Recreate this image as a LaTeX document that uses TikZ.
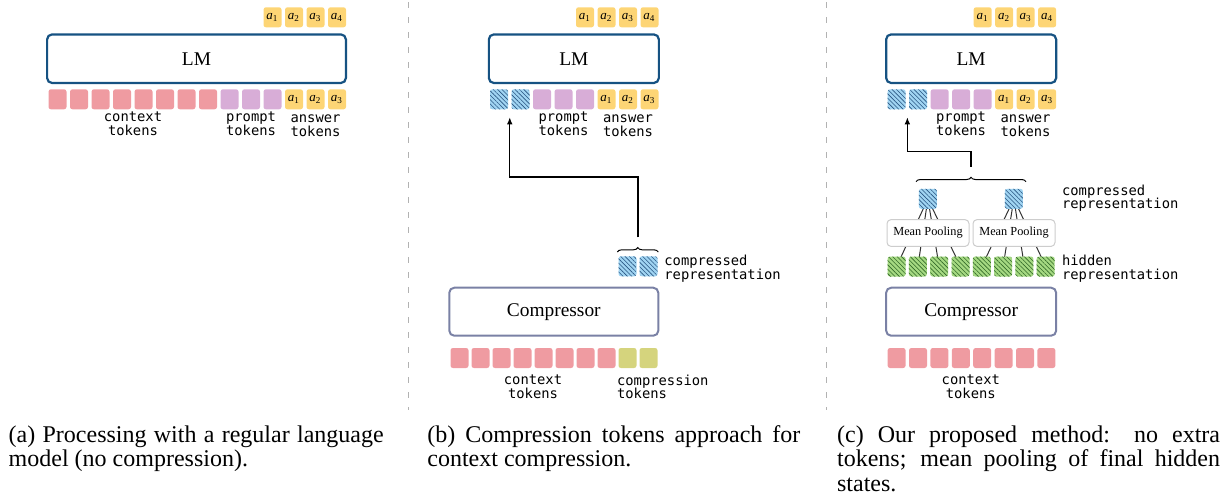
\documentclass[tikz,border=0pt]{standalone}
\usepackage{fontspec}
\setmainfont{Liberation Serif}
\newfontfamily\monofont{DejaVu Sans Mono}
\usetikzlibrary{patterns.meta,decorations.pathreplacing,arrows.meta,backgrounds,calc}

\definecolor{ctxpink}{RGB}{239,155,161}
\definecolor{prmpurple}{RGB}{216,173,215}
\definecolor{ansyellow}{RGB}{253,213,117}
\definecolor{cmpolive}{RGB}{213,212,125}
\definecolor{repblue}{RGB}{160,212,242}
\definecolor{replines}{RGB}{40,85,130}
\definecolor{hidgreen}{RGB}{165,217,130}
\definecolor{hidlines}{RGB}{50,105,40}
\definecolor{lmblue}{RGB}{22,82,130}
\definecolor{compslate}{RGB}{122,129,165}
\definecolor{poolgray}{RGB}{205,205,205}

\newcommand{\ansym}[1]{\textit{a}\textsubscript{#1}}

\tikzset{
  token/.style={rounded corners=1.2pt, minimum width=9pt, minimum height=10pt, inner sep=0pt, font=\fontsize{6.5}{7}\selectfont},
  ctxtok/.style={token, fill=ctxpink},
  prmtok/.style={token, fill=prmpurple},
  anstok/.style={token, fill=ansyellow},
  cmptok/.style={token, fill=cmpolive},
  reptok/.style={token, preaction={fill=repblue}, pattern={Lines[angle=-45,distance=1.55pt,line width=0.3pt]}, pattern color=replines},
  hidtok/.style={token, preaction={fill=hidgreen}, pattern={Lines[angle=-45,distance=1.55pt,line width=0.3pt]}, pattern color=hidlines},
  lmbox/.style={draw=lmblue, line width=1.1pt, rounded corners=2.5pt, minimum height=24.3pt, font=\fontsize{9.7}{10}\selectfont},
  compbox/.style={draw=compslate, line width=1pt, rounded corners=2.5pt, minimum height=24pt, font=\fontsize{9.7}{10}\selectfont},
  poolbox/.style={draw=poolgray, line width=0.5pt, rounded corners=2pt, fill=white, minimum width=41pt, minimum height=13.4pt, inner sep=0pt, font=\fontsize{6.15}{7}\selectfont},
  lbl/.style={font=\monofont\fontsize{6.9}{6.9}\selectfont, inner sep=0pt},
  flow/.style={-{Latex[length=3.5pt,width=2.8pt]}, line width=0.6pt},
  brc/.style={decorate, decoration={brace, amplitude=2.2pt}, line width=0.5pt},
  fan/.style={draw=black!80, line width=0.5pt},
  sep/.style={draw=black!30, line width=0.5pt, dash pattern=on 3pt off 4.5pt},
  caption/.style={anchor=north west, inner sep=0pt, align=justify, font=\fontsize{12}{12.3}\selectfont}
}

\begin{document}
\begin{tikzpicture}[x=0.5pt, y=-0.5pt]
  \useasboundingbox (0,0) rectangle (1227,495);

  % (a) regular language model
  \foreach \i in {0,...,7} \node[ctxtok] (ain\i) at ({57.5+21.5*\i},99.3) {};
  \foreach \i in {8,9,10} \node[prmtok] (ain\i) at ({57.5+21.5*\i},99.3) {};
  \foreach \i/\k in {11/1,12/2,13/3} \node[anstok] (ain\i) at ({57.5+21.5*\i},99.3) {\ansym{\k}};
  \foreach \i/\k in {10/1,11/2,12/3,13/4} \node[anstok] (aout\k) at ({57.5+21.5*\i},17.3) {\ansym{\k}};
  \node[lmbox, minimum width=149.4pt] (alm) at (196.5,58.7) {LM};
  \node[lbl, anchor=north, align=center] (actx) at (133,111.5) {context\\tokens};
  \node[lbl, anchor=north, align=center] (aprm) at (251,111.5) {prompt\\tokens};
  \node[lbl, anchor=north, align=center] (aans) at (315.5,111.5) {\vphantom{d}answer\\tokens};

  \draw[sep] (408.5,2) -- (408.5,410); % separator
  \draw[sep] (826.5,2) -- (826.5,410); % separator

  % (b) compression tokens
  \foreach \i in {0,1} \node[reptok] (bin\i) at ({499+21.5*\i},99.3) {};
  \foreach \i in {2,3,4} \node[prmtok] (bin\i) at ({499+21.5*\i},99.3) {};
  \foreach \i/\k in {5/1,6/2,7/3} \node[anstok] (bin\i) at ({499+21.5*\i},99.3) {\ansym{\k}};
  \foreach \i/\k in {4/1,5/2,6/3,7/4} \node[anstok] (bout\k) at ({499+21.5*\i},17.3) {\ansym{\k}};
  \node[lmbox, minimum width=85pt] (blm) at (573.85,58.7) {LM};
  \node[lbl, anchor=north, align=center] (bprm) at (563.5,111.5) {prompt\\tokens};
  \node[lbl, anchor=north, align=center] (bans) at (628,111.5) {\vphantom{d}answer\\tokens};

  \node[reptok] (brep1) at (627.5,266.3) {};
  \node[reptok] (brep2) at (648.5,266.3) {};
  \draw[brc] (617.3,252) -- (658.3,252); % brace
  \coordinate (bbr) at (638,247.7);
  \coordinate (bgap) at ($(bin0.south)!0.5!(bin1.south)$);
  \draw[flow, shorten >=3.8pt] ([yshift=5.2pt]bbr) |- ($(bgap)+(0,67.4)$) -- (bgap);
  \node[lbl, anchor=north west, align=left] (brepl) at (664,254.5) {compressed\\representation};

  \node[compbox, minimum width=104.5pt] (bcomp) at (553.8,311.7) {Compressor};
  \foreach \i in {0,...,7} \node[ctxtok] (bctx\i) at ({459.5+21*\i},358) {};
  \foreach \i in {8,9} \node[cmptok] (bctx\i) at ({459.5+21*\i},358) {};
  \node[lbl, anchor=north, align=center] (bctxl) at (533,374.3) {context\\tokens};
  \node[lbl, anchor=north west, align=left] (bcmpl) at (616.7,374.3) {compression\\tokens};

  % (c) mean pooling
  \foreach \i in {0,1} \node[reptok] (cin\i) at ({896.6+21.5*\i},99.3) {};
  \foreach \i in {2,3,4} \node[prmtok] (cin\i) at ({896.6+21.5*\i},99.3) {};
  \foreach \i/\k in {5/1,6/2,7/3} \node[anstok] (cin\i) at ({896.6+21.5*\i},99.3) {\ansym{\k}};
  \foreach \i/\k in {4/1,5/2,6/3,7/4} \node[anstok] (cout\k) at ({896.6+21.5*\i},17.3) {\ansym{\k}};
  \node[lmbox, minimum width=85pt] (clm) at (971.15,58.7) {LM};
  \node[lbl, anchor=north, align=center] (cprm) at (961.1,111.5) {prompt\\tokens};
  \node[lbl, anchor=north, align=center] (cans) at (1025.6,111.5) {\vphantom{d}answer\\tokens};

  \node[reptok] (crep1) at (927.85,198.8) {};
  \node[reptok] (crep2) at (1013.85,198.8) {};
  \draw[brc] (916,181.7) -- (1026,181.7); % brace
  \coordinate (cbr) at (971,176.7);
  \coordinate (cgap) at ($(cin0.south)!0.5!(cin1.south)$);
  \draw[flow, shorten >=3.8pt] ([yshift=5pt]cbr) |- ($(cgap)+(0,41.7)$) -- (cgap);
  \node[lbl, anchor=north west, align=left] (crepl) at (1061.7,184.3) {compressed\\representation};

  \node[poolbox] (cpool1) at (928,233) {Mean Pooling};
  \node[poolbox] (cpool2) at (1014,233) {Mean Pooling};
  \foreach \i in {0,...,7} \node[hidtok] (chid\i) at ({896.6+21.3*\i},266.5) {};
  \begin{scope}[on background layer]
    \foreach \i in {0,...,3} \draw[fan] (chid\i.center) -- (crep1.center);
    \foreach \i in {4,...,7} \draw[fan] (chid\i.center) -- (crep2.center);
  \end{scope}
  \node[lbl, anchor=north west, align=left] (chidl) at (1061.7,255) {hidden\\representation};

  \node[compbox, minimum width=85pt] (ccomp) at (971.15,311.7) {Compressor};
  \foreach \i in {0,...,7} \node[ctxtok] (cctx\i) at ({896.6+21.4*\i},358) {};
  \node[lbl, anchor=north, align=center] (cctxl) at (970.8,374.3) {context\\tokens};

  % captions
  \node[caption, text width=187.5pt] (capa) at (8.3,425) {(a) Processing with a regular language model (no compression).};
  \node[caption, text width=186.5pt] (capb) at (427,425) {(b) Compression tokens approach for context compression.};
  \node[caption, text width=191.5pt] (capc) at (836.7,425) {(c) Our proposed method: no extra tokens; mean pooling of final hidden states.};
\end{tikzpicture}
\end{document}
